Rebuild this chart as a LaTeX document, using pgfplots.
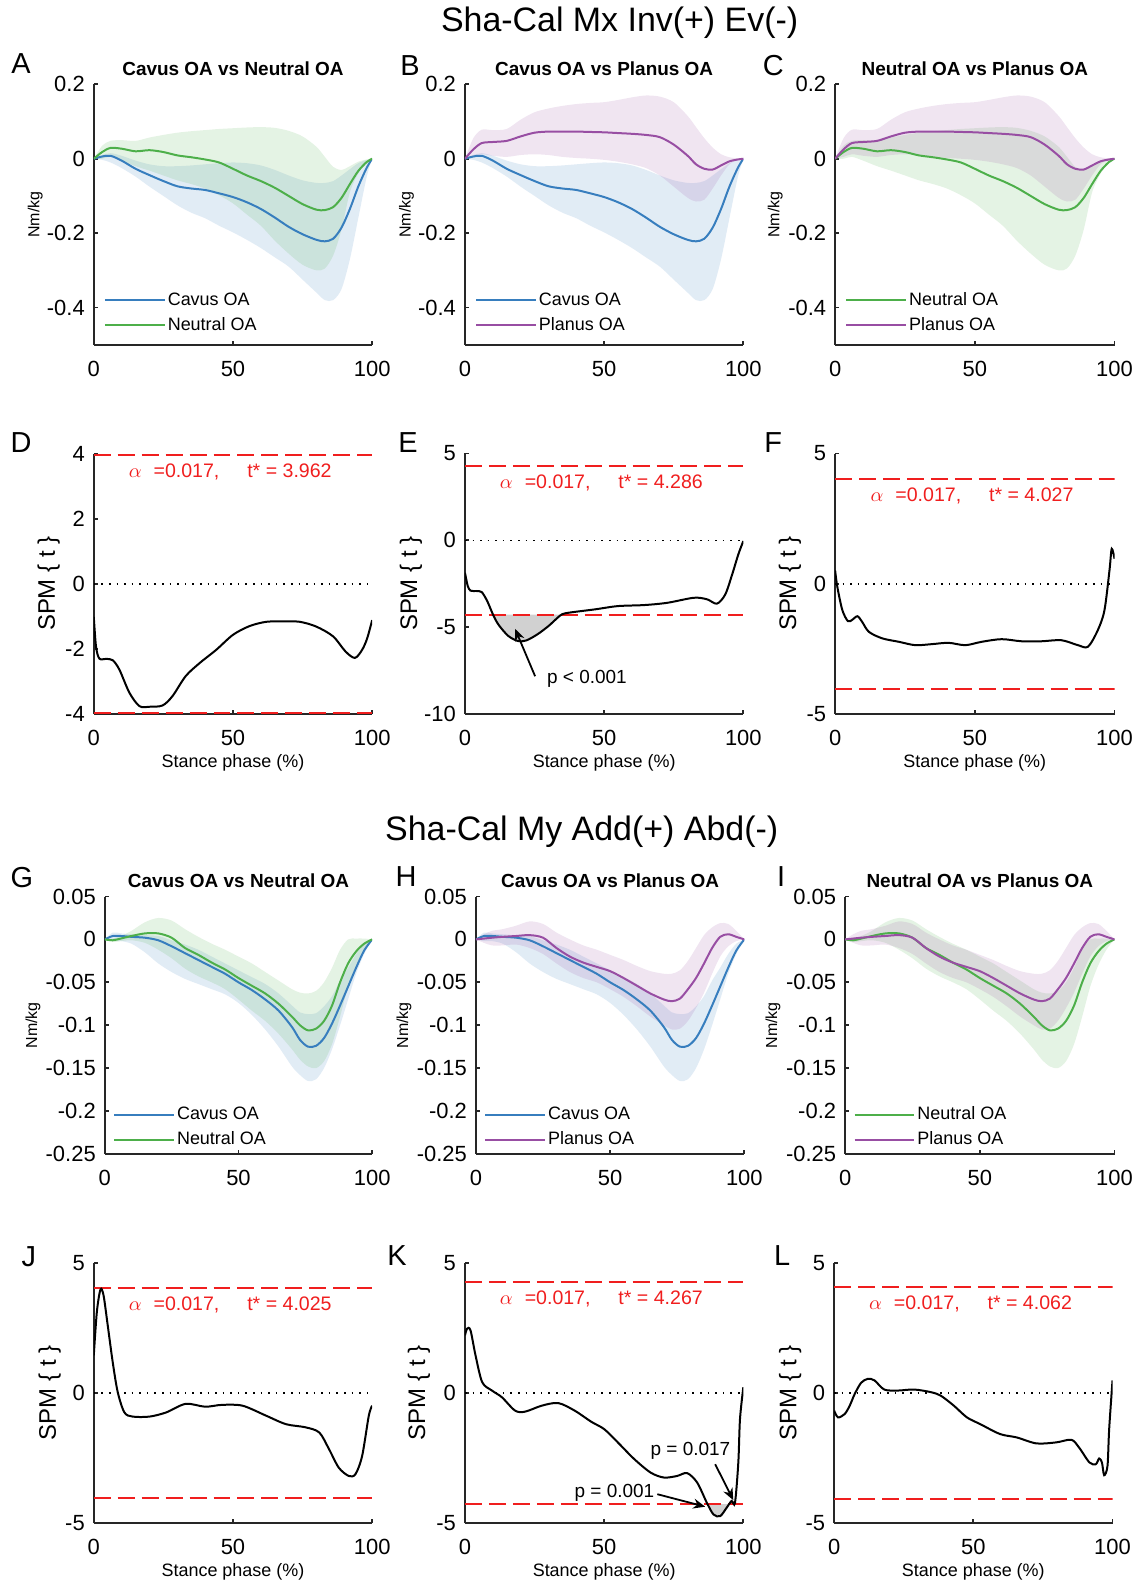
\documentclass[border=0pt]{standalone}
\usepackage{fontspec}
\setmainfont{Liberation Sans}
\usepackage{pgfplots}
\pgfplotsset{compat=1.18}
\usepackage{pgfplotstable}
\usepgfplotslibrary{fillbetween}
\usetikzlibrary{arrows.meta}
\definecolor{cblue}{RGB}{55,126,190}
\definecolor{cgreen}{RGB}{77,175,74}
\definecolor{cpurple}{RGB}{152,78,163}
\definecolor{cred}{RGB}{240,30,30}
\definecolor{axgray}{RGB}{38,38,38}
\newlength\pu \setlength\pu{0.5pt}

% ---------- data: mean (m), upper (u), lower (l) ----------
\pgfplotstableread{
x m u l
0 0 0 0
3 0.006 0.010 -0.003
6 0.008 0.015 -0.010
10 -0.005 0.008 -0.025
15 -0.027 -0.005 -0.048
20 -0.044 -0.015 -0.075
25 -0.060 -0.020 -0.100
30 -0.074 -0.020 -0.125
35 -0.080 -0.018 -0.145
40 -0.084 -0.015 -0.160
45 -0.093 -0.012 -0.180
50 -0.103 -0.010 -0.198
55 -0.117 -0.012 -0.218
60 -0.135 -0.018 -0.240
65 -0.158 -0.030 -0.265
70 -0.183 -0.045 -0.290
75 -0.203 -0.058 -0.325
80 -0.218 -0.065 -0.360
83 -0.222 -0.065 -0.380
86 -0.215 -0.060 -0.380
89 -0.185 -0.045 -0.350
92 -0.135 -0.028 -0.270
95 -0.075 -0.012 -0.160
98 -0.025 -0.003 -0.050
100 0 0 0
}\cavMx
\pgfplotstableread{
x m u l
0 0 0 0
3 0.018 0.035 0.000
6 0.029 0.048 0.005
10 0.027 0.050 -0.005
15 0.020 0.048 -0.020
20 0.023 0.057 -0.032
25 0.018 0.064 -0.045
30 0.009 0.070 -0.058
35 0.004 0.074 -0.068
40 -0.002 0.077 -0.080
45 -0.010 0.080 -0.098
50 -0.027 0.082 -0.120
55 -0.045 0.084 -0.150
60 -0.060 0.085 -0.180
65 -0.078 0.083 -0.220
70 -0.100 0.075 -0.255
75 -0.122 0.060 -0.285
80 -0.137 0.032 -0.300
83 -0.138 0.005 -0.295
86 -0.130 -0.022 -0.260
89 -0.105 -0.030 -0.190
92 -0.068 -0.020 -0.090
95 -0.033 -0.008 -0.040
98 -0.009 -0.002 -0.010
100 0 0 0
}\neuMx
\pgfplotstableread{
x m u l
0 0 0 0
3 0.025 0.055 0.005
6 0.042 0.078 0.012
10 0.045 0.077 0.008
15 0.048 0.080 0.005
20 0.060 0.105 0.010
25 0.070 0.125 0.012
30 0.073 0.135 0.010
35 0.073 0.142 0.005
40 0.073 0.147 0.002
45 0.072 0.150 0.000
50 0.071 0.152 -0.003
55 0.069 0.158 -0.008
60 0.067 0.165 -0.015
65 0.064 0.170 -0.025
70 0.058 0.167 -0.045
75 0.038 0.152 -0.075
80 0.008 0.115 -0.105
83 -0.015 0.085 -0.115
86 -0.027 0.055 -0.110
89 -0.029 0.030 -0.080
92 -0.018 0.012 -0.045
95 -0.007 0.004 -0.015
98 -0.002 0.001 -0.003
100 0 0 0
}\plaMx
\pgfplotstableread{
x m u l
0 0 0 0
3 0.004 0.008 -0.002
6 0.004 0.007 -0.002
10 0.003 0.006 -0.005
15 0.002 0.005 -0.015
20 -0.001 0.004 -0.028
25 -0.008 -0.001 -0.038
30 -0.016 -0.006 -0.046
35 -0.024 -0.012 -0.052
40 -0.032 -0.020 -0.058
45 -0.040 -0.028 -0.064
50 -0.050 -0.036 -0.074
55 -0.059 -0.044 -0.088
60 -0.070 -0.052 -0.105
65 -0.083 -0.063 -0.125
70 -0.102 -0.077 -0.148
73 -0.117 -0.085 -0.158
76 -0.125 -0.087 -0.165
79 -0.124 -0.086 -0.163
82 -0.115 -0.078 -0.150
85 -0.098 -0.066 -0.128
88 -0.077 -0.048 -0.100
91 -0.055 -0.033 -0.070
94 -0.033 -0.017 -0.040
97 -0.013 -0.005 -0.017
100 0 0 0
}\cavMy
\pgfplotstableread{
x m u l
0 0 0 0
3 -0.001 0.001 -0.003
6 0.001 0.004 -0.002
10 0.004 0.010 -0.001
15 0.007 0.020 -0.004
20 0.007 0.025 -0.012
25 0.002 0.022 -0.022
30 -0.010 0.012 -0.034
35 -0.018 0.003 -0.043
40 -0.027 -0.005 -0.050
45 -0.035 -0.012 -0.058
50 -0.045 -0.020 -0.070
55 -0.054 -0.028 -0.083
60 -0.063 -0.038 -0.095
65 -0.075 -0.048 -0.110
70 -0.090 -0.058 -0.128
73 -0.100 -0.062 -0.140
76 -0.106 -0.063 -0.148
79 -0.104 -0.060 -0.150
82 -0.095 -0.050 -0.142
85 -0.077 -0.033 -0.122
88 -0.050 -0.012 -0.090
91 -0.028 0.000 -0.055
94 -0.014 0.001 -0.030
97 -0.005 0.001 -0.012
100 0 0 0
}\neuMy
\pgfplotstableread{
x m u l
0 0 0 0
3 0.001 0.006 -0.004
6 0.002 0.010 -0.007
10 0.003 0.012 -0.007
15 0.004 0.016 -0.006
20 0.005 0.021 -0.010
25 0.002 0.018 -0.017
30 -0.010 0.008 -0.028
35 -0.020 0.000 -0.038
40 -0.027 -0.007 -0.045
45 -0.032 -0.012 -0.050
50 -0.037 -0.018 -0.058
55 -0.045 -0.024 -0.067
60 -0.054 -0.031 -0.078
65 -0.063 -0.037 -0.090
70 -0.070 -0.040 -0.100
73 -0.072 -0.040 -0.105
76 -0.069 -0.036 -0.104
79 -0.058 -0.025 -0.095
82 -0.045 -0.010 -0.080
85 -0.028 0.005 -0.062
88 -0.010 0.014 -0.040
91 0.003 0.019 -0.020
94 0.006 0.018 -0.008
97 0.003 0.010 -0.002
100 0 0 0
}\plaMy

\newcommand\band[3]{%
  \addplot[draw=none, smooth, name path=#3U, forget plot] table[x=x,y=u]{#1};
  \addplot[draw=none, smooth, name path=#3L, forget plot] table[x=x,y=l]{#1};
  \addplot[fill=#2, fill opacity=0.15, draw=none, forget plot] fill between[of=#3U and #3L];
}
\newcommand\meanline[2]{\addplot[#2, line width=1pt, smooth] table[x=x,y=m]{#1};}

\pgfplotsset{
  base/.style={
    scale only axis, anchor=south west, axis lines*=left,
    axis line style={line width=0.9pt, color=axgray},
    every tick/.style={line width=0.9pt, color=axgray},
    tick align=inside, major tick length=2pt,
    xmin=0, xmax=100, xtick={0,50,100}, xticklabels={0,50,100},
    tick label style={font=\fontsize{11}{13}\selectfont, color=black},
    xticklabel style={yshift=-4.5pt},
    yticklabel style={xshift=-1pt},
    scaled y ticks=false,
  },
  mx/.style={base, width=139.5pt, height=130.5pt, ymin=-0.5, ymax=0.2,
    ytick={-0.4,-0.2,0,0.2}, yticklabels={-0.4,-0.2,0,0.2},
    ylabel={Nm/kg}, ylabel style={font=\fontsize{8}{10}\selectfont, at={(axis description cs:-0.21,0.5)}, anchor=center},
    title style={font=\bfseries\fontsize{9.5}{11}\selectfont, at={(axis description cs:0.5,1)}, anchor=base, yshift=-1.5pt},
    legend style={draw=none, fill=none, at={(axis description cs:0.035,0.035)}, anchor=south west,
      font=\fontsize{9}{11}\selectfont, row sep=2.5pt, inner sep=0pt, nodes={inner sep=1pt}},
    legend cell align=left,
    legend image code/.code={\draw[##1] (0pt,0pt) -- (30pt,0pt);},
  },
  my/.style={mx, width=134pt, height=129pt, ymin=-0.25, ymax=0.05,
    ytick={-0.25,-0.2,-0.15,-0.1,-0.05,0,0.05}, yticklabels={-0.25,-0.2,-0.15,-0.1,-0.05,0,0.05},
    ylabel style={at={(axis description cs:-0.268,0.5)}},
    legend style={at={(axis description cs:0.03,0.015)}},
  },
  spm/.style={base, width=139.5pt, height=130.5pt,
    ylabel={SPM \{ t \}}, ylabel style={font=\fontsize{12}{14}\selectfont, at={(axis description cs:-0.162,0.5)}, anchor=center},
    xlabel={Stance phase (\%)}, xlabel style={font=\fontsize{9}{11}\selectfont, at={(axis description cs:0.5,0)}, anchor=center, yshift=-24.5pt},
  },
}
\newcommand\thr[1]{%
  \addplot[cred, line width=1pt, dash pattern=on 8.5pt off 3.5pt, forget plot] coordinates {(0,#1) (100,#1)};
  \addplot[cred, line width=1pt, dash pattern=on 8.5pt off 3.5pt, forget plot] coordinates {(0,-#1) (100,-#1)};
  \addplot[black, line width=0.8pt, dash pattern=on 0.8pt off 3pt, forget plot] coordinates {(0,0) (100,0)};
  \node[cred, anchor=north, font=\fontsize{9.8}{11}\selectfont, yshift=-1pt] at (axis cs:49,#1) {$\alpha$\hspace{6pt}=0.017,\hspace{14pt}t* = #1};
}
\newcommand\pnl[3]{\node[font=\fontsize{14.5}{16}\selectfont] at (#1\pu,-#2\pu) {#3};}
\tikzset{annarrow/.style={black, line width=0.9pt, -{Stealth[length=6pt, width=5pt]}}}

\begin{document}
\begin{tikzpicture}

\node[font=\fontsize{17}{20}\selectfont] at (621\pu,-21\pu) {Sha-Cal Mx Inv(+) Ev(-)};
\node[font=\fontsize{17}{20}\selectfont] at (583\pu,-832\pu) {Sha-Cal My Add(+) Abd(-)};

\pnl{21}{62}{A} \pnl{411}{64}{B} \pnl{775}{64}{C}
\pnl{21}{442}{D} \pnl{409}{442}{E} \pnl{775}{442}{F}
\pnl{22}{878}{G} \pnl{407}{877}{H} \pnl{783}{877}{I}
\pnl{29}{1258}{J} \pnl{398}{1257}{K} \pnl{784}{1257}{L}

% ---------------- Row 1 ----------------
\begin{axis}[mx, at={(94\pu,-344\pu)}, title={Cavus OA vs Neutral OA}]
\band{\cavMx}{cblue}{a}
\band{\neuMx}{cgreen}{b}
\meanline{\cavMx}{cblue} \addlegendentry{Cavus OA}
\meanline{\neuMx}{cgreen} \addlegendentry{Neutral OA}
\end{axis}

\begin{axis}[mx, at={(466\pu,-344\pu)}, title={Cavus OA vs Planus OA}]
\band{\cavMx}{cblue}{a}
\band{\plaMx}{cpurple}{b}
\meanline{\cavMx}{cblue} \addlegendentry{Cavus OA}
\meanline{\plaMx}{cpurple} \addlegendentry{Planus OA}
\end{axis}

\begin{axis}[mx, width=140pt, at={(837\pu,-344\pu)}, title={Neutral OA vs Planus OA}, ylabel style={at={(axis description cs:-0.214,0.5)}}]
\band{\neuMx}{cgreen}{a}
\band{\plaMx}{cpurple}{b}
\meanline{\neuMx}{cgreen} \addlegendentry{Neutral OA}
\meanline{\plaMx}{cpurple} \addlegendentry{Planus OA}
\end{axis}

% ---------------- Row 2 ----------------
\begin{axis}[spm, at={(94\pu,-714\pu)}, ymin=-4, ymax=4, ytick={-4,-2,0,2,4}, yticklabels={-4,-2,0,2,4}]
\thr{3.962}
\addplot[black, line width=1pt, smooth] coordinates {
(0,-1.02)(0.8,-1.93)(2,-2.3)(4.4,-2.31)(6.8,-2.35)(9.2,-2.64)(12.8,-3.35)(16.4,-3.76)(20,-3.78)(24.7,-3.74)
(28.3,-3.45)(33,-2.84)(38,-2.44)(44,-2.03)(50,-1.57)(56,-1.3)(62,-1.17)(68,-1.16)(74,-1.17)(80,-1.32)
(86,-1.62)(90.4,-2.08)(93.8,-2.28)(96.4,-2.03)(98.2,-1.68)(100,-1.12)};
\end{axis}

\begin{axis}[spm, at={(466\pu,-714\pu)}, ymin=-10, ymax=5, ytick={-10,-5,0,5}, yticklabels={-10,-5,0,5},
  ylabel style={at={(axis description cs:-0.194,0.5)}}]
\addplot[draw=none, smooth, name path=curve, forget plot] coordinates {
(0,-1.87)(1,-2.63)(2,-2.9)(4,-2.92)(6,-2.98)(8,-3.5)(10,-4.25)(12,-4.85)(15.5,-5.5)(19,-5.8)(22,-5.77)
(26,-5.42)(30,-4.94)(33,-4.5)(35,-4.25)(38.2,-4.15)(46.6,-3.98)(54.9,-3.79)(64.4,-3.73)(72.7,-3.6)
(82.2,-3.31)(87,-3.4)(90.5,-3.65)(93.5,-3.12)(96,-1.96)(98.2,-0.81)(100,-0.04)};
\addplot[draw=none, name path=tline, forget plot] coordinates {(0,-4.286) (100,-4.286)};
\addplot[fill=black!18, draw=none, forget plot] fill between[of=curve and tline, soft clip={domain=10:35}];
\thr{4.286}
\addplot[black, line width=1pt, smooth] coordinates {
(0,-1.87)(1,-2.63)(2,-2.9)(4,-2.92)(6,-2.98)(8,-3.5)(10,-4.25)(12,-4.85)(15.5,-5.5)(19,-5.8)(22,-5.77)
(26,-5.42)(30,-4.94)(33,-4.5)(35,-4.25)(38.2,-4.15)(46.6,-3.98)(54.9,-3.79)(64.4,-3.73)(72.7,-3.6)
(82.2,-3.31)(87,-3.4)(90.5,-3.65)(93.5,-3.12)(96,-1.96)(98.2,-0.81)(100,-0.04)};
\draw[annarrow] (axis cs:25.2,-7.83) -- (axis cs:18,-5.1);
\node[anchor=west, font=\fontsize{9.5}{11}\selectfont] at (axis cs:27,-8.0) {p < 0.001};
\end{axis}

\begin{axis}[spm, width=140pt, at={(837\pu,-714\pu)}, ymin=-5, ymax=5, ytick={-5,0,5}, yticklabels={-5,0,5}]
\thr{4.027}
\addplot[black, line width=1pt, smooth] coordinates {
(0,0.51)(0.8,-0.13)(2.6,-1.02)(4.6,-1.44)(6.2,-1.38)(8,-1.25)(9.7,-1.47)(12.1,-1.85)(16.9,-2.1)(22.8,-2.23)
(28.7,-2.36)(34.7,-2.32)(40.6,-2.27)(46.6,-2.36)(52.5,-2.23)(59.6,-2.13)(66.7,-2.21)(73.9,-2.21)(81,-2.17)
(86.9,-2.36)(90.5,-2.42)(94,-1.79)(96.4,-1.02)(98.2,0.51)(99,1.34)(100,0.96)};
\end{axis}

% ---------------- Row 3 ----------------
\begin{axis}[my, at={(105\pu,-1155\pu)}, title={Cavus OA vs Neutral OA}]
\band{\cavMy}{cblue}{a}
\band{\neuMy}{cgreen}{b}
\meanline{\cavMy}{cblue} \addlegendentry{Cavus OA}
\meanline{\neuMy}{cgreen} \addlegendentry{Neutral OA}
\end{axis}

\begin{axis}[my, width=134.5pt, at={(477\pu,-1155\pu)}, title={Cavus OA vs Planus OA}]
\band{\cavMy}{cblue}{a}
\band{\plaMy}{cpurple}{b}
\meanline{\cavMy}{cblue} \addlegendentry{Cavus OA}
\meanline{\plaMy}{cpurple} \addlegendentry{Planus OA}
\end{axis}

\begin{axis}[my, width=135pt, at={(847\pu,-1155\pu)}, title={Neutral OA vs Planus OA}]
\band{\neuMy}{cgreen}{a}
\band{\plaMy}{cpurple}{b}
\meanline{\neuMy}{cgreen} \addlegendentry{Neutral OA}
\meanline{\plaMy}{cpurple} \addlegendentry{Planus OA}
\end{axis}

% ---------------- Row 4 ----------------
\begin{axis}[spm, at={(94\pu,-1525\pu)}, ymin=-5, ymax=5, ytick={-5,0,5}, yticklabels={-5,0,5},
  ylabel style={at={(axis description cs:-0.158,0.5)}}]
\thr{4.025}
\addplot[black, line width=1pt, smooth] coordinates {
(0,1.44)(1.1,3.11)(2.4,3.97)(3.5,3.75)(5,2.6)(6.8,1.18)(8.6,0.03)(11,-0.75)(14,-0.91)(20,-0.91)(26,-0.75)
(33,-0.42)(40,-0.53)(46,-0.46)(53.4,-0.49)(61.8,-0.87)(69,-1.2)(76,-1.32)(81,-1.52)(84.5,-2.16)(88,-2.87)
(91.6,-3.19)(94,-3.12)(96.4,-2.42)(98.8,-0.87)(100,-0.49)};
\end{axis}

\begin{axis}[spm, at={(466\pu,-1525\pu)}, ymin=-5, ymax=5, ytick={-5,0,5}, yticklabels={-5,0,5},
  ylabel style={at={(axis description cs:-0.165,0.5)}}]
\addplot[draw=none, smooth, name path=curve, forget plot] coordinates {
(0,2.21)(0.8,2.47)(2,2.4)(3.8,1.44)(6.2,0.41)(9.7,0.09)(13.3,-0.17)(18,-0.68)(21.6,-0.72)(27.6,-0.49)
(33.5,-0.39)(39.4,-0.68)(45.4,-1.11)(50,-1.39)(54.9,-1.9)(60.8,-2.54)(66.7,-3.06)(71.5,-3.25)(76.2,-3.19)
(79.8,-3.08)(83.4,-3.44)(86.9,-4.22)(89.3,-4.67)(91.7,-4.73)(94,-4.41)(95.8,-4.15)(97,-4.22)(98.2,-2.67)(98.8,-1.0)(100,0.22)};
\addplot[draw=none, name path=tline, forget plot] coordinates {(0,-4.267) (100,-4.267)};
\addplot[fill=black!18, draw=none, forget plot] fill between[of=curve and tline, soft clip={domain=87.2:95}];
\thr{4.267}
\addplot[black, line width=1pt, smooth] coordinates {
(0,2.21)(0.8,2.47)(2,2.4)(3.8,1.44)(6.2,0.41)(9.7,0.09)(13.3,-0.17)(18,-0.68)(21.6,-0.72)(27.6,-0.49)
(33.5,-0.39)(39.4,-0.68)(45.4,-1.11)(50,-1.39)(54.9,-1.9)(60.8,-2.54)(66.7,-3.06)(71.5,-3.25)(76.2,-3.19)
(79.8,-3.08)(83.4,-3.44)(86.9,-4.22)(89.3,-4.67)(91.7,-4.73)(94,-4.41)(95.8,-4.15)(97,-4.22)(98.2,-2.67)(98.8,-1.0)(100,0.22)};
\node[font=\fontsize{9.5}{11}\selectfont] at (axis cs:81,-2.22) {p = 0.017};
\draw[annarrow] (axis cs:89.9,-2.74) -- (axis cs:96.4,-4.12);
\node[font=\fontsize{9.5}{11}\selectfont] at (axis cs:53.7,-3.83) {p = 0.001};
\draw[annarrow] (axis cs:69.1,-3.89) -- (axis cs:86.3,-4.37);
\end{axis}

\begin{axis}[spm, at={(836\pu,-1525\pu)}, ymin=-5, ymax=5, ytick={-5,0,5}, yticklabels={-5,0,5},
  ylabel style={at={(axis description cs:-0.158,0.5)}}]
\thr{4.062}
\addplot[black, line width=1pt, smooth] coordinates {
(0,-0.68)(1.4,-0.94)(3.8,-0.81)(5.6,-0.49)(7.4,-0.04)(9.7,0.39)(12.1,0.54)(14.5,0.48)(18,0.13)(22.8,0.09)
(28.7,0.13)(34.7,0.03)(38.2,-0.1)(43,-0.49)(47.7,-0.94)(52.5,-1.2)(59.6,-1.58)(65.6,-1.71)(72.7,-1.94)
(79.8,-1.9)(85.2,-1.8)(88,-2.1)(91.7,-2.67)(94,-2.74)(95.2,-2.52)(96.2,-2.67)(97,-3.16)(98.2,-2.8)(98.8,-1.39)(100,0.48)};
\end{axis}

\path (0,0) rectangle (1136\pu,-1587\pu);
\end{tikzpicture}
\end{document}
